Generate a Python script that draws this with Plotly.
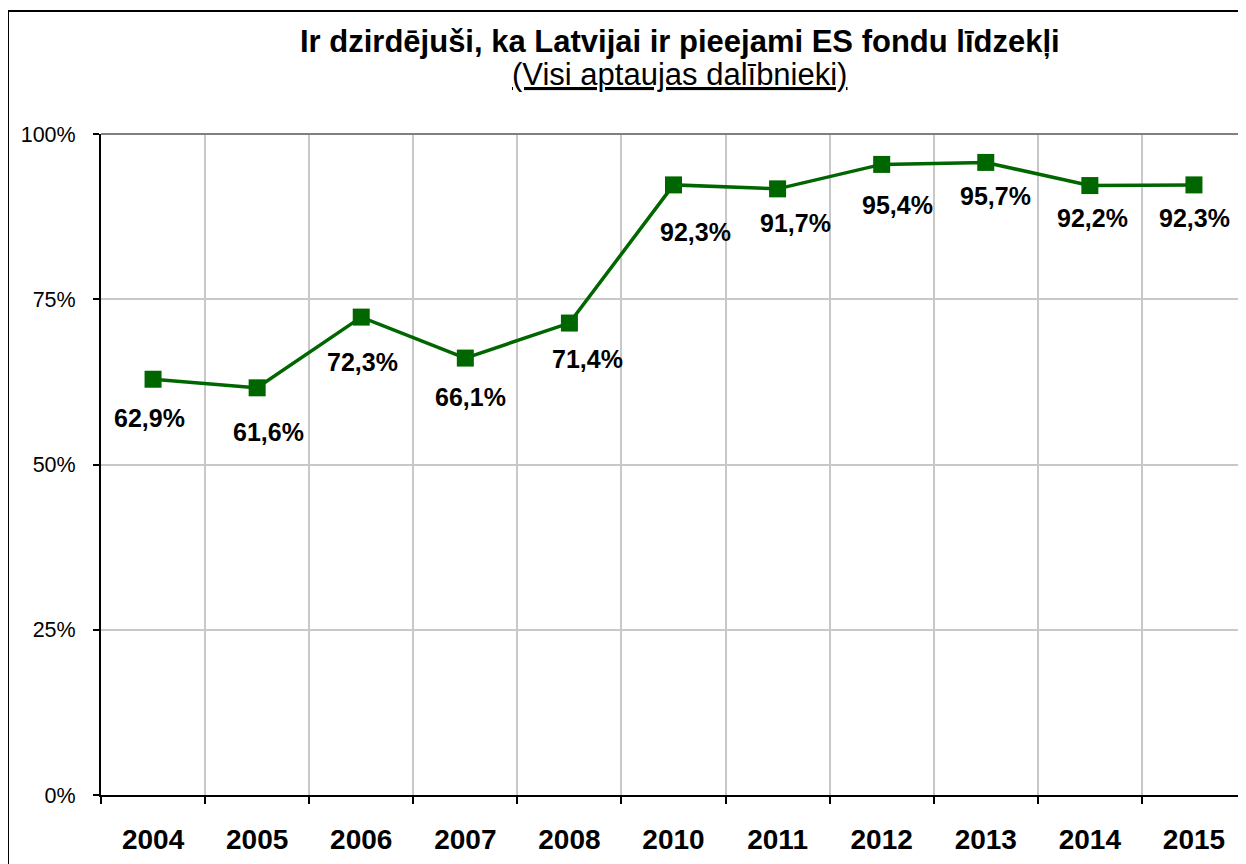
import plotly.graph_objects as go

years = ["2004", "2005", "2006", "2007", "2008", "2010", "2011", "2012", "2013", "2014", "2015"]
values = [62.9, 61.6, 72.3, 66.1, 71.4, 92.3, 91.7, 95.4, 95.7, 92.2, 92.3]
y_ticks = [0, 25, 50, 75, 100]
title_text = "Ir dzirdējuši, ka Latvijai ir pieejami ES fondu līdzekļi"
subtitle_text = "(Visi aptaujas dalībnieki)"

# label placement offsets (pixels: right, down) relative to each point
label_dx = [-4, 11, 1, 5, 18, 22, 18, 16, 10, 3, 1]
label_dy = [39, 44, 45, 39, 36, 47, 34, 41, 34, 32, 33]

PCT = "&#37;"

# the page body adds an 8px margin: reference pixel p -> figure pixel p - 8
OFF = 8
W, H = 1246 - OFF, 864 - OFF
ML, MT = 101 - OFF, 134 - OFF
PLOT_B = 795 - OFF
MR = 0
MB = H - PLOT_B
PW, PH = W - ML - MR, PLOT_B - MT


def px_x(p):
    return (p - OFF - ML) / PW


def px_y(p):
    return (PLOT_B - (p - OFF)) / PH


FONT = "Liberation Sans, Arial, sans-serif"
GREEN = "#006600"

fig = go.Figure()
fig.add_trace(go.Scatter(
    x=years, y=values, mode="lines+markers",
    line=dict(color=GREEN, width=3.5),
    marker=dict(symbol="square", size=17, color=GREEN),
    hoverinfo="skip", showlegend=False,
))

annotations = []
for i, (v, dx, dy) in enumerate(zip(values, label_dx, label_dy)):
    annotations.append(dict(
        x=i, y=v, xref="x", yref="y",
        text="<b>" + f"{v:.1f}".replace(".", ",") + PCT + "</b>",
        showarrow=False, xshift=dx, yshift=-dy,
        xanchor="center", yanchor="middle",
        font=dict(family=FONT, size=25, color="black"),
    ))

annotations.append(dict(
    x=px_x(680), y=px_y(42), xref="paper", yref="paper",
    text="<b>" + title_text + "</b>", showarrow=False,
    xanchor="center", yanchor="middle",
    font=dict(family=FONT, size=31, color="black"),
))
annotations.append(dict(
    x=px_x(679), y=px_y(74), xref="paper", yref="paper",
    text="<span style='text-decoration:underline'>" + subtitle_text + "</span>",
    showarrow=False, xanchor="center", yanchor="middle",
    font=dict(family=FONT, size=31, color="black"),
))

shapes = [
    dict(type="line", xref="paper", yref="paper", x0=0, x1=1, y0=1, y1=1,
         line=dict(color="#808080", width=2)),
    dict(type="line", xref="paper", yref="paper", x0=px_x(8), x1=px_x(1260),
         y0=px_y(11), y1=px_y(11), line=dict(color="black", width=2)),
    dict(type="line", xref="paper", yref="paper", x0=px_x(8), x1=px_x(8),
         y0=px_y(11), y1=px_y(880), line=dict(color="black", width=2)),
]

fig.update_layout(
    width=W, height=H,
    margin=dict(l=ML, r=MR, t=MT, b=MB, pad=0, autoexpand=False),
    paper_bgcolor="white", plot_bgcolor="white",
    font=dict(family=FONT, color="black"),
    annotations=annotations, shapes=shapes,
    xaxis=dict(
        type="category", tickson="boundaries",
        showgrid=True, gridcolor="#c8c8c8", gridwidth=2,
        showline=True, linecolor="black", linewidth=2,
        ticks="outside", ticklen=7, tickwidth=2, tickcolor="black",
        tickfont=dict(family=FONT, size=28, color="black"),
        tickprefix="<b>", ticksuffix="</b>",
        ticklabelstandoff=18,
        range=[-0.5, 10.5], zeroline=False, automargin=False,
    ),
    yaxis=dict(
        range=[0, 100], tickvals=y_ticks,
        ticktext=[f"{t}{PCT}" for t in y_ticks],
        showgrid=True, gridcolor="#c8c8c8", gridwidth=2,
        showline=True, linecolor="black", linewidth=2,
        ticks="outside", ticklen=6, tickwidth=2, tickcolor="black",
        tickfont=dict(family=FONT, size=21.5, color="black"),
        ticklabelstandoff=13, zeroline=False, automargin=False,
    ),
)

fig.write_html("out.html")
